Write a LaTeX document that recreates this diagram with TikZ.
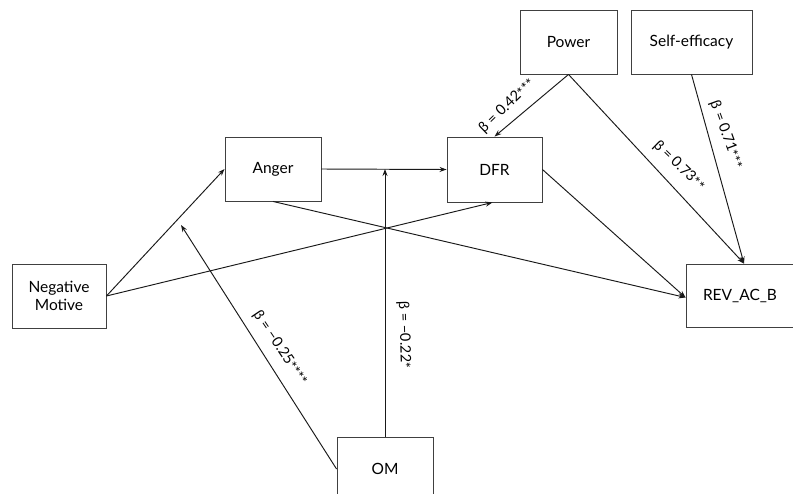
\documentclass[tikz,border=0pt]{standalone}
\usepackage{fontspec}
\setmainfont{Lato}
\usetikzlibrary{arrows.meta}
\newcommand{\stars}[1]{\raisebox{-1.5pt}{#1}}
\begin{document}
\begin{tikzpicture}[x=1pt,y=-1pt,
  box/.style={draw=black!75,line width=0.9pt,rectangle,minimum height=64pt,align=center,font=\fontsize{15.5}{18.5}\selectfont,inner sep=0pt},
  conn/.style={draw=black!90,line width=0.95pt,-{Stealth[length=7pt,width=5pt]}},
  lbl/.style={font=\fontsize{14.5}{17}\selectfont,inner sep=0pt}]
\useasboundingbox (0,0) rectangle (793,493);
\clip (0,0) rectangle (793,493);
\node[box,minimum width=94pt] (nm) at (59,296) {Negative\\Motive};
\node[box,minimum width=96pt] (anger) at (273,169) {Anger};
\node[box,minimum width=95pt,minimum height=65pt] (dfr) at (494.5,169.5) {DFR};
\node[box,minimum width=97pt] (power) at (568.5,42) {Power};
\node[box,minimum width=121pt] (se) at (691.5,42) {Self-efficacy};
\node[box,minimum width=108pt,minimum height=63pt] (rev) at (740,295.5) {REV\_AC\_B};
\node[box,minimum width=96pt] (om) at (385,469) {OM};
\coordinate (revtop) at ([xshift=4pt]rev.north);
\coordinate (mod1) at (181,225);
\coordinate (mod2) at (om.north |- anger.east);
\draw[conn] (anger.east) -- (dfr.west);
\draw[conn] (nm.east) -- (anger.west);
\draw[conn] (nm.east) -- ([xshift=-2pt]dfr.south);
\draw[conn] (anger.south) -- ([yshift=-2pt]rev.west);
\draw[conn] (dfr.east) -- ([yshift=-2pt]rev.west);
\draw[conn] (power.south) -- (dfr.north);
\draw[conn] (power.south) -- (revtop);
\draw[conn] (se.south) -- (revtop);
\draw[conn] (om.west) -- (mod1);
\draw[conn] (om.north) -- (mod2);
\node[lbl,rotate=44] (l42) at (507,106) {β = 0.42\stars{***}};
\node[lbl,rotate=-44] (l73) at (679,166) {β = 0.73\stars{**}};
\node[lbl,rotate=-70] (l71) at (726,135) {β = 0.71\stars{***}};
\node[lbl,rotate=-56] (l25) at (280,348) {β = −0.25\stars{****}};
\node[lbl,rotate=-88] (l22) at (404,335) {β = −0.22\stars{*}};
\end{tikzpicture}
\end{document}
